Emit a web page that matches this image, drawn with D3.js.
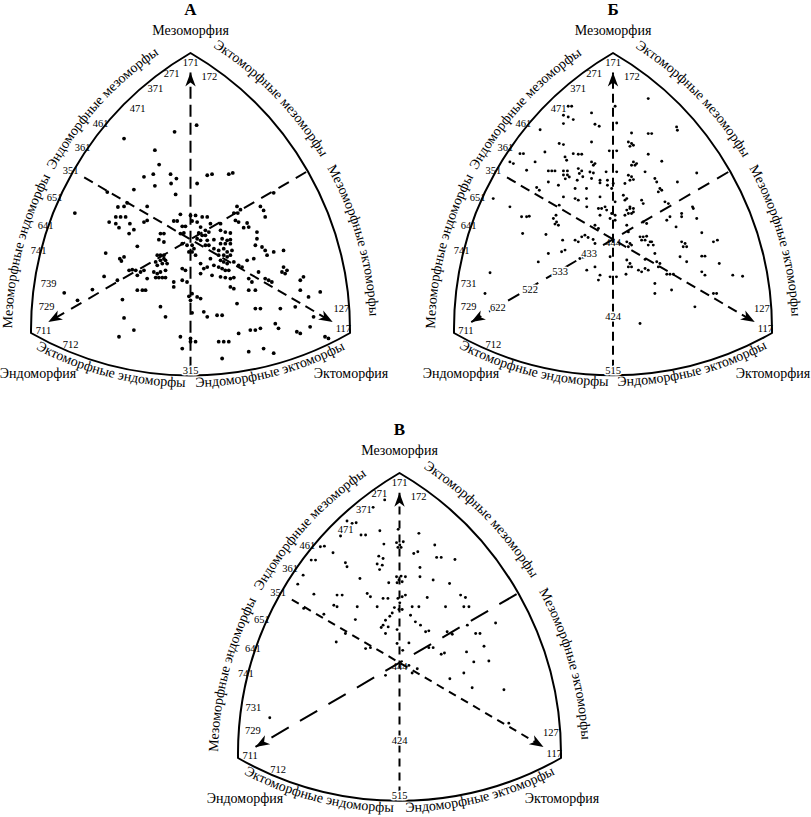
<!DOCTYPE html>
<html><head><meta charset="utf-8">
<script src="https://cdn.jsdelivr.net/npm/d3@7"></script>
<style>
body{margin:0;background:#fff}
svg{display:block}
text{font-family:"Liberation Serif","Times New Roman",serif;fill:#000}
</style></head>
<body><svg id="chart" width="811" height="817"></svg>
<script>
// ---------- DATA (Heath-Carter somatochart coordinates: X = ecto-endo, Y = 2*meso-(endo+ecto)) ----------
const panelTitles = ["А", "Б", "В"];
const axisNames = {
  top: "Мезоморфия", left: "Эндоморфия", right: "Эктоморфия",
  leftUpper: "Эндоморфные мезоморфы", leftLower: "Мезоморфные эндоморфы",
  rightUpper: "Эктоморфные мезоморфы", rightLower: "Мезоморфные эктоморфы",
  bottomLeft: "Эктоморфные эндоморфы", bottomRight: "Эндоморфные эктоморфы"
};

const labelsA = [["171",0,11.4],["271",-0.71,10.7],["172",0.71,10.5],["371",-1.32,9.7],["471",-1.99,8.45],["461",-3.38,7.49],["361",-4.06,5.94],["351",-4.51,4.47],["651",-5.11,2.73],["641",-5.45,0.93],["741",-5.71,-0.67],["739",-5.34,-2.8],["729",-5.41,-4.27],["711",-5.53,-5.82],["712",-4.51,-6.72],["315",0,-8.39],["117",5.75,-5.69],["127",5.68,-4.4]];
const labelsB = [["171",0,11.4],["271",-0.71,10.7],["172",0.71,10.5],["371",-1.32,9.7],["471",-2.05,8.45],["461",-3.38,7.49],["361",-4.06,5.94],["351",-4.51,4.47],["651",-5.11,2.73],["641",-5.45,0.93],["741",-5.71,-0.67],["731",-5.45,-2.8],["729",-5.45,-4.27],["711",-5.55,-5.82],["712",-4.51,-6.72],["515",0,-8.39],["117",5.75,-5.69],["127",5.62,-4.4],["444",0,-0.16],["433",-0.9,-0.87],["533",-2.0,-2.02],["522",-3.13,-3.18],["622",-4.34,-4.34],["424",0,-4.92]];
const labelsV = [["171",0,11.4],["271",-0.75,10.7],["172",0.71,10.5],["371",-1.32,9.7],["471",-2.0,8.45],["461",-3.42,7.45],["361",-4.06,5.94],["351",-4.51,4.47],["651",-5.11,2.73],["641",-5.45,0.93],["741",-5.71,-0.67],["731",-5.43,-2.8],["729",-5.45,-4.27],["711",-5.55,-5.82],["712",-4.51,-6.72],["515",0,-8.39],["117",5.75,-5.69],["127",5.62,-4.4],["444",0,-0.2],["424",0,-4.9]];
const haloLabels = ["315","515","424","433","533","522","622"];

const pointsA = [
[0.23,7.36],[-0.6,6.93],[-2.5,6.5],[-1.34,5.75],[-1.18,4.83],[-1.75,4.04],[-1.4,4.21],[-0.75,4.21],[-0.53,3.93],[-0.73,3.61],[-1.34,3.46],[-2.13,3.22],[0.25,3.61],[0.63,4.14],[0.81,4.21],[1.44,4.21],[1.59,4.29],[3.13,3.01],
[-3.13,3.06],[-0.56,2.91],[-4.35,1.71],[-2.73,2.1],[-2.5,2.14],[-2.38,2.36],[-1.63,2.14],[-0.38,1.63],[0,1.56],[0.19,1.56],[1.75,2.14],[1.88,1.93],[1.63,1.71],[1.78,1.71],[2.63,2.14],[2.75,1.88],[2.81,1.46],
[-2.81,1.46],[-2.63,1.46],[-2.44,1.46],[-3.06,1.13],[-2.81,1.03],[-1.75,1.13],[-1.63,1.24],[-0.63,1.2],[-0.5,1.2],[0.06,1.2],[0.25,1.13],[0.44,1.46],[0.63,1.46],[0.75,1.03],[1.13,1.03],[1.69,1.24],[1.81,1.13],[2.13,1.07],[2.19,0.81],
[-2.69,0.77],[-2.28,1.03],[-2.13,0.64],[-2.31,0.39],[-0.31,0.86],[-0.19,0.86],[0.38,0.81],[0.56,0.6],[0.69,0.49],[1.13,0.6],[1.31,0.49],[1.5,0.43],[2.5,0.49],[2.0,0.77],
[-1.13,0.39],[-1.0,0.39],[-0.38,0.39],[-0.25,0.43],[0.31,0.43],[0.44,0.28],[0.56,0.28],[-1.19,0],[-1.0,-0.15],[-0.31,-0.26],[-0.13,-0.36],[0.25,0.06],[0.38,-0.04],[0.63,-0.04],[0.88,0],[1.19,0.06],[1.38,-0.04],[1.5,0],[1.31,-0.26],[1.5,-0.26],[1.13,-0.26],[2.5,0.06],[2.44,-0.36],
[-2.0,-0.43],[0.06,-0.36],[0.13,-0.58],[0.56,-0.36],[0.69,-0.36],[0.88,-0.58],[1.06,-0.69],[1.25,-0.58],[1.38,-0.79],[1.56,-0.69],[-0.06,-0.79],[0.06,-0.79],[0.19,-1.0],[-3.19,-0.86],[-1.25,-1.0],[-1.13,-1.0],[-1.0,-1.0],[-1.0,-1.22],[1.06,-1.0],[1.25,-1.0],[1.38,-1.1],[1.5,-1.0],[2.69,-0.47],[2.81,-0.69],[3.13,-0.79],[3.5,-0.69],[2.88,-1.0],
[-2.66,-1.22],[-2.5,-1.11],[-2.6,-1.37],[-1.31,-1.43],[-1.13,-1.33],[-0.94,-1.33],[-1.06,-1.54],[-1.25,-1.65],[-0.88,-1.54],[0.75,-1.22],[1.13,-1.33],[1.25,-1.43],[1.38,-1.54],[1.63,-1.43],[1.81,-1.65],[1.94,-1.76],[2.13,-1.33],[2.38,-1.22],[-0.31,-1.86],[-0.19,-1.97],[0.38,-1.54],[0.5,-1.86],[0.63,-1.76],[0.88,-1.65],[1.06,-1.76],[1.19,-1.86],[1.31,-1.97],[1.44,-1.97],[3.5,-1.76],[3.63,-1.97],[3.56,-2.18],[3.44,-2.08],
[-3.25,-2.36],[-2.75,-2.61],[-2.31,-1.97],[-2.19,-1.93],[-2.06,-1.97],[-1.88,-2.08],[-1.75,-1.97],[-2.0,-2.29],[-1.63,-2.5],[-1.38,-2.08],[-1.25,-2.18],[-1.13,-2.08],[-0.94,-1.97],[-1.31,-2.44],[-1.19,-2.44],[-1.06,-2.44],[-0.94,-2.44],[-0.63,-2.72],[-0.31,-2.61],[-0.13,-2.72],[0.38,-2.18],[0.81,-2.29],[1.13,-2.39],[1.31,-2.44],[1.5,-2.5],[1.63,-2.44],[2.19,-2.5],[2.31,-2.72],[2.56,-2.08],[2.81,-2.5],[2.94,-2.61],[3.06,-2.72],[4.13,-2.61],[4.25,-2.39],
[-4.75,-3.42],[-3.69,-3.21],[-4.25,-3.9],[-2.56,-3.85],[-2.0,-3.25],[-1.81,-3.25],[-1.69,-3.25],[-0.63,-3.04],[-0.06,-3.64],[0.06,-3.47],[0.25,-3.68],[0.38,-3.79],[0,-3.9],[1.5,-3.04],[1.63,-3.15],[2.19,-3.25],[2.44,-3.25],[4.13,-3.25],[4.88,-3.36],[4.44,-3.68],
[-1.13,-4.31],[0.06,-4.7],[0.5,-4.64],[0.63,-4.96],[1.0,-4.86],[1.19,-4.86],[1.75,-4.11],[2.44,-4.43],[2.63,-4.43],[3.38,-4.43],[3.94,-4.32],[4.63,-4.96],[-2.5,-5.03],[-0.94,-4.96],
[-2.13,-5.81],[2.25,-5.81],[2.44,-5.81],[2.63,-5.7],[3.19,-5.4],[3.31,-5.7],[4.0,-5.92],[4.13,-6.03],[4.5,-5.6],[1.81,-6.03],[-2.69,-6.24],[-0.38,-6.24],[0,-6.35],[0.19,-6.56],[0,-6.56],[1.06,-6.56],[1.25,-6.56],[1.44,-6.56],[2.19,-7.2],[2.75,-7.0],[3.13,-7.3],[5.06,-6.24],[5.19,-6.35],[-0.31,-7.0],[1.19,-7.64]
];

const pointsB = [
[-1.69,8.58],[-1.56,8.58],[-1.87,8.0],[-1.69,7.89],[-1.5,7.72],[-0.81,8.15],[-1.87,7.46],[-0.68,7.42],[-0.52,7.29],[0.14,7.5],[-2.75,7.07],[-2.03,6.18],[-1.87,6.11],[-0.81,6.28],[-2.57,5.64],[-3.51,5.53],[-3.38,5.53],[-1.81,5.32],[-1.75,5.11],[-1.5,5.53],[-1.31,5.49],[-1.18,5.49],[-2.94,5.0],[-3.89,5.0],[-3.76,4.89],[-0.81,5.0],[-0.68,4.89],[-0.74,4.78],[-0.14,5.71],[0.14,5.71],[-3.26,4.46],[-2.44,4.42],[-2.31,4.42],[-2.19,4.42],[-1.87,4.42],[-1.72,4.42],[-1.87,4.16],[-1.72,4.16],[-1.8,3.91],[-1.65,4.03],[-1.31,4.57],[-1.18,4.42],[-1.27,4.25],[-1.14,4.04],[-1.35,3.82],[-0.87,4.35],[-0.74,4.29],[-0.81,3.93],[-0.49,3.82],[-2.44,3.71],[-2.88,3.35],[-2.78,3.18],[-2.06,3.5],[-1.43,3.29],[-1.0,3.29],[-0.26,4.36],[0.14,4.36],[-0.21,3.82],[-0.21,3.5],[0.01,3.61],[-0.05,3.29],[-0.49,3.65],[-3.89,2.11],[-1.87,2.75],[-1.43,2.64],[-1.31,2.54],[-1.0,2.64],[-0.49,2.75],[-0.55,2.0],[-0.43,2.0],[-0.3,2.11],
[0.08,8.58],[0.7,6.86],[1.33,6.82],[1.46,6.82],[2.43,7.03],[0.58,6.28],[0.7,6.18],[0.64,6.0],[0.77,6.07],[1.33,5.49],[1.84,5.04],[0.77,5.0],[0.89,4.89],[0.7,4.78],[0.83,4.78],[1.21,4.36],[0.58,4.14],[0.7,4.04],[0.64,3.82],[0.77,3.86],[0.45,3.61],[1.58,3.93],[1.65,3.71],[1.77,3.29],[1.84,3.18],[1.71,3.07],[2.43,3.71],[3.16,4.29],[0.39,2.86],[0.52,2.64],[0.45,2.54],[1.08,2.54],[1.14,2.32],[1.96,2.43],[2.09,2.32],[3.03,2.0],[0.64,2.11],[0.77,2.0],[0.08,2.43],
[-3.45,1.47],[-3.26,1.47],[-3.16,1.51],[-2.15,1.57],[-2.25,1.36],[-2.13,1.14],[-2.19,1.0],[-2.06,0.93],[-2.03,2.22],[-0.99,2.11],[-0.49,1.57],[-0.68,0.93],[-0.55,0.72],[-3.41,0.4],[-2.53,0.33],[-1.9,-0.03],[-1.43,-0.03],[-1.31,-0.14],[-1.18,0.18],[-1.06,0.29],[-0.94,0.14],[-0.75,0.01],[-0.68,-0.25],[-2.44,-0.89],[-1.94,-0.78],[-1.81,-0.67],[-1.25,-1.21],[-1.12,-1.14],[-0.11,-1.1],[-2.82,-1.43],[-0.99,-1.96],[-0.68,-1.75],[-0.49,-2.28],[-0.55,-2.6],[-4.64,-2.13],[-0.11,-2.39],[0.13,-2.39],[-4.83,-3.46],
[0.52,1.9],[0.64,2.0],[0.77,1.78],[0.58,1.68],[0.7,1.68],[0.45,1.57],[-0.24,1.9],[-0.05,1.68],[0.08,1.57],[-0.11,1.36],[0.08,1.25],[2.15,1.47],[2.03,1.25],[1.14,1.14],[1.27,1.04],[2.59,1.68],[2.59,1.47],[3.0,2.11],[3.16,1.36],[2.38,0.82],[3.35,0.44],[0.52,0.93],[0.58,0.5],[1.02,0.18],[1.14,0.18],[1.27,0.22],[1.08,-0.03],[1.21,-0.03],[1.4,-0.14],[1.33,-0.35],[1.52,-0.35],[1.46,-0.14],[0.52,-0.14],[0.64,-0.25],[0.58,-0.46],[0.7,-0.35],[2.59,-0.14],[2.72,-0.25],[2.78,-0.46],[2.65,-0.46],[3.79,-0.14],[3.94,-0.03],[1.58,-0.89],[2.53,-1.1],[2.78,-1.42],[1.21,-1.27],[3.35,-1.06],[3.47,-1.06],[4.01,-1.53],[0.52,-1.31],[0.64,-1.53],[0.58,-1.75],[0.7,-1.75],[1.65,-1.42],[1.77,-1.53],[1.71,-1.75],[0.96,-1.96],[1.08,-2.07],[1.21,-1.85],[1.33,-1.96],[0.49,-2.22],[2.03,-2.22],[2.15,-2.22],[2.28,-2.22],[3.35,-2.07],[3.47,-2.28],[4.52,-2.28],[4.89,-2.35],[1.58,-2.82],[2.21,-3.24],[1.58,-3.46],[3.79,-3.46],[3.91,-3.46],
[1.33,9.07],[2.4,7.25],[-4.52,2.64],[3.09,-4.32],[1.02,-5.39]
];

const pointsV = [
[-0.55,10.3],[-0.98,9.83],[-1.95,8.97],[-1.76,8.82],[-1.61,8.86],[-2.19,8.02],[-1.43,8.08],[-1.26,8.08],[-0.73,8.35],[-0.05,8.44],[0.72,8.19],[-2.94,7.34],[-2.79,7.38],[-2.47,6.96],[-0.58,7.51],[-0.11,7.6],[0.01,7.45],[0.14,7.66],[-0.06,7.3],[0.06,7.3],[1.31,7.45],[0.68,7.03],[0.53,6.92],[-3.28,6.5],[-3.12,6.5],[-0.77,6.75],[-0.61,6.6],[-0.83,6.25],[-0.64,6.18],[-0.74,5.9],[-2.01,6.33],[-1.95,6.08],[0.76,6.03],[1.38,6.67],[1.55,6.67],[2.06,6.54],[-3.58,5.55],[-1.47,5.34],[-0.11,5.45],[0.06,5.49],[0.22,5.45],[-0.02,5.24],[0.1,5.13],[-0.09,5.07],[-0.4,5.07],[0.76,5.45],[1.25,5.24],[1.86,5.02],[-3.78,4.98],[-3.18,4.35],[-2.32,4.29],[-2.13,4.29],[-1.2,4.39],[-1.08,4.18],[-0.61,4.08],[-0.43,4.08],[-0.06,4.08],[0.1,4.18],[0.22,4.29],[0.01,3.8],[1.03,4.14],[2.27,4.29],[2.45,4.14],[-2.44,3.65],[-2.32,3.55],[-3.56,3.45],[-1.57,3.55],[-0.83,3.55],[0.47,3.55],[0.72,3.55],[1.71,3.55],[2.39,3.55],[2.58,3.55],
[-0.19,3.5],[-0.02,3.38],[0.1,3.38],[-0.27,3.16],[-0.36,2.95],[-0.52,2.7],[-0.61,2.39],[-0.42,2.28],[-0.68,2.24],[-0.52,1.86],[-0.09,2.11],[-0.09,1.23],[0.12,0.8],[0.41,3.02],[0.59,2.6],[0.78,2.39],[0.97,1.97],[1.09,2.03],[0.35,1.27],[1.77,1.97],[1.96,1.82],[2.52,2.39],[2.83,1.86],[2.99,1.86],[3.57,2.53],[3.14,1.06],[1.09,0.97],[1.25,0.97],[1.55,0.55],[1.67,0.63],[2.49,0.7],[2.76,0.07],[3.32,0.13],[2.39,-0.63],[1.87,-0.99],[2.7,-1.56],[3.88,-1.69],[0.66,-0.36],[0.47,-0.63],[-0.52,-0.78],[-1.64,2.74],[-2.01,1.86],[-2.81,3.08],[-2.35,1.33],[-1.26,0.91],[-1.08,0.97],[0.35,-0.15],[-4.82,-3.46],[4.06,-3.8]
];

// Vertex somatotypes (7-1-1 corners) and guide lines
const vertexTop = [0, 12], vertexLeft = [-6, -6], vertexRight = [6, -6];
const arrowTips = [[0, 10.75], [-5.35, -5.3], [5.35, -5.3]];
const lineStarts = [[0, -8.3], [4.35, 4.35], [-4.0, 4.0]];

// ---------- LAYOUT ----------
const panels = [
  {title: panelTitles[0], points: pointsA, labels: labelsA, xr: [31, 350], yr: [333, 53], r: 321, dot: 1.9, dashes: ["12,6", "12,8", "10,6"]},
  {title: panelTitles[1], points: pointsB, labels: labelsB, xr: [454, 772], yr: [333, 53], r: 320, dot: 1.45, dashes: ["9,5", "13,9", "10,6"]},
  {title: panelTitles[2], points: pointsV, labels: labelsV, xr: [238, 561], yr: [758, 473], r: 326, dot: 1.45, dashes: ["8,6", "20,13", "8,6"]}
];

const svg = d3.select("#chart");
const defs = svg.append("defs");
defs.append("marker").attr("id", "arrow").attr("markerUnits", "userSpaceOnUse")
  .attr("viewBox", "-15 -7 17 14").attr("refX", 0).attr("refY", 0)
  .attr("markerWidth", 17).attr("markerHeight", 14).attr("orient", "auto")
  .append("path").attr("d", "M0,0L-14,-5.2L-10,0L-14,5.2Z").attr("fill", "#000");

function arcD(c, p0, p1, rad, sweep) {
  const a0 = Math.atan2(p0[1] - c[1], p0[0] - c[0]);
  const a1 = Math.atan2(p1[1] - c[1], p1[0] - c[0]);
  const s = [c[0] + rad * Math.cos(a0), c[1] + rad * Math.sin(a0)];
  const e = [c[0] + rad * Math.cos(a1), c[1] + rad * Math.sin(a1)];
  return `M${s[0]},${s[1]}A${rad},${rad} 0 0 ${sweep} ${e[0]},${e[1]}`;
}

panels.forEach((p, i) => {
  const x = d3.scaleLinear().domain([-6, 6]).range(p.xr);
  const y = d3.scaleLinear().domain([-6, 12]).range(p.yr);
  const pt = d => [x(d[0]), y(d[1])];
  const T = pt(vertexTop), L = pt(vertexLeft), R = pt(vertexRight);
  const r = p.r;
  const g = svg.append("g");

  // Reuleaux-type boundary
  g.append("path")
    .attr("d", `M${T}A${r},${r} 0 0 1 ${R}A${r},${r} 0 0 1 ${L}A${r},${r} 0 0 1 ${T}Z`)
    .attr("fill", "none").attr("stroke", "#000").attr("stroke-width", 2).attr("stroke-linejoin", "round");

  // guide lines with arrows
  lineStarts.forEach((s, k) => {
    g.append("line")
      .attr("x1", x(s[0])).attr("y1", y(s[1]))
      .attr("x2", x(arrowTips[k][0])).attr("y2", y(arrowTips[k][1]))
      .attr("stroke", "#000").attr("stroke-width", 2)
      .attr("stroke-dasharray", p.dashes[k])
      .attr("marker-end", "url(#arrow)");
  });

  // points
  g.append("g").selectAll("circle").data(p.points).join("circle")
    .attr("cx", d => x(d[0])).attr("cy", d => y(d[1])).attr("r", p.dot).attr("fill", "#000");

  // somatotype labels
  g.append("g").selectAll("text").data(p.labels).join("text")
    .attr("x", d => x(d[1])).attr("y", d => y(d[2]))
    .attr("text-anchor", "middle").attr("dominant-baseline", "central")
    .attr("font-size", 10.5)
    .attr("stroke", d => haloLabels.includes(d[0]) ? "#fff" : "none")
    .attr("stroke-width", 3).attr("paint-order", "stroke")
    .text(d => d[0]);

  // titles and corner names
  g.append("text").attr("x", T[0]).attr("y", T[1] - 38).attr("text-anchor", "middle")
    .attr("font-size", 17).attr("font-weight", "bold").text(p.title);
  g.append("text").attr("x", T[0]).attr("y", T[1] - 18).attr("text-anchor", "middle")
    .attr("font-size", 14).text(axisNames.top);
  g.append("text").attr("x", L[0] + 7).attr("y", L[1] + 45).attr("text-anchor", "middle")
    .attr("font-size", 14).text(axisNames.left);
  g.append("text").attr("x", R[0] + 1).attr("y", R[1] + 45).attr("text-anchor", "middle")
    .attr("font-size", 14).text(axisNames.right);

  // curved side names
  const paths = [
    {id: `left${i}`, d: arcD(R, L, T, r + 17, 1), texts: [[axisNames.leftLower, "23.5%"], [axisNames.leftUpper, "70%"]]},
    {id: `right${i}`, d: arcD(L, T, R, r + 18, 1), texts: [[axisNames.rightUpper, "26.5%"], [axisNames.rightLower, "73.5%"]]},
    {id: `bottom${i}`, d: arcD(T, L, R, r + 13, 0), texts: [[axisNames.bottomLeft, "26%"], [axisNames.bottomRight, "74%"]]}
  ];
  paths.forEach(pp => {
    defs.append("path").attr("id", pp.id).attr("d", pp.d);
    pp.texts.forEach(t => {
      g.append("text").attr("font-size", 14)
        .append("textPath").attr("href", `#${pp.id}`)
        .attr("startOffset", t[1]).attr("text-anchor", "middle").text(t[0]);
    });
  });
});
</script>
</body></html>
